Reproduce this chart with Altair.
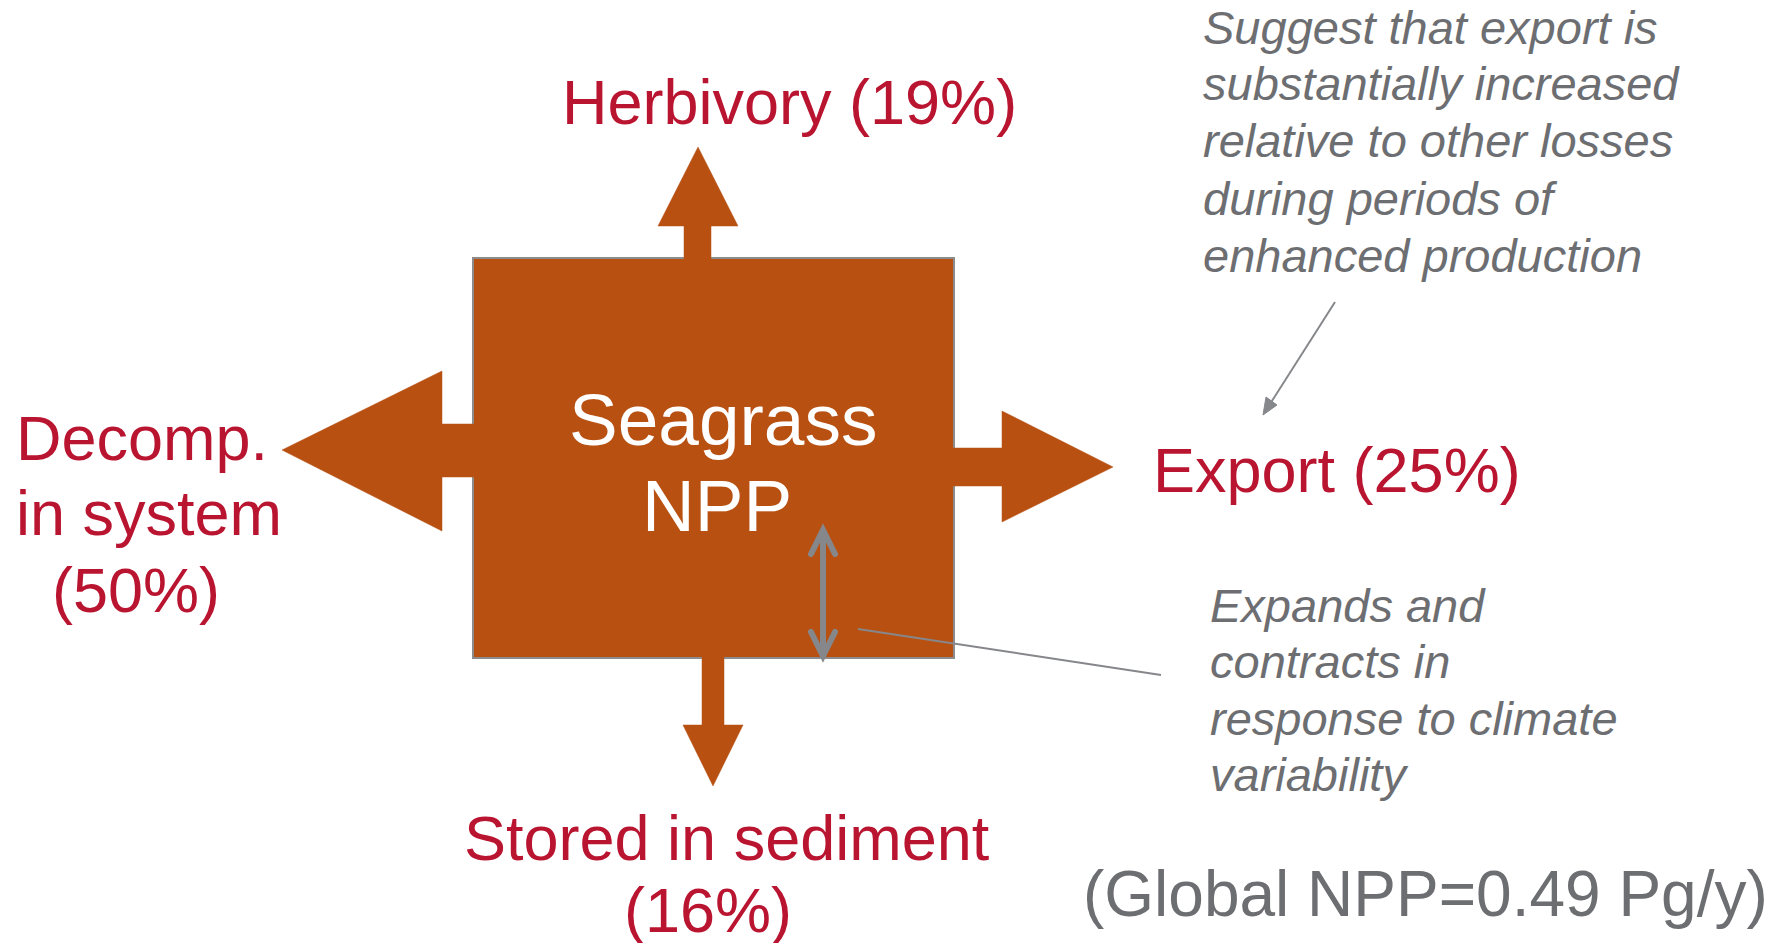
import altair as alt
import pandas as pd

BROWN = "#B85012"
RED = "#BA1530"
GRAY_TXT = "#6D6E71"
GRAY_LN = "#85878A"
FONT = "Liberation Sans"

# ---- NPP box (pixel-space diagram coordinates) ----
box_x, box_x2, box_y, box_y2 = [473], [954], [258], [658]

# ---- flux arrows: polygon vertices ----
up_x = [684, 684, 658, 698, 738, 711, 711]
up_y = [260, 226, 226, 147, 226, 226, 260]
left_x = [475, 442, 442, 282, 442, 442, 475]
left_y = [424, 424, 371, 450, 531, 477, 477]
right_x = [953, 1002, 1002, 1113, 1002, 1002, 953]
right_y = [448, 448, 411, 467, 522, 486, 486]
down_x = [702, 702, 683, 713, 743, 724, 724]
down_y = [657, 725, 725, 786, 725, 725, 657]

# ---- callout arrowhead (filled) ----
head_x = [1263, 1277, 1266]
head_y = [415, 405, 397]

# ---- thin leader lines ----
rule_x = [858, 1335]
rule_y = [629, 302]
rule_x2 = [1161, 1270]
rule_y2 = [675, 404]

# ---- double arrow (expands / contracts) ----
dbl_x, dbl_y, dbl_y2 = [823], [531], [655]
chev_x = [811, 823, 835, 811, 823, 835]
chev_y = [554, 530, 554, 632, 656, 632]
chev_id = ["top", "top", "top", "bot", "bot", "bot"]

# ---- labels ----
red_text = ["Herbivory (19%)", "Decomp.", "in system", "(50%)", "Export (25%)",
            "Stored in sediment", "(16%)"]
red_x = [562, 16, 16, 52, 1153, 464, 624]
red_y = [124, 460, 535, 612, 492, 860, 932]

white_text = ["Seagrass", "NPP"]
white_x = [569, 642]
white_y = [445, 531]

ital_text = ["Suggest that export is", "substantially increased",
             "relative to other losses", "during periods of", "enhanced production",
             "Expands and", "contracts in", "response to climate", "variability"]
ital_x = [1203] * 5 + [1210] * 4
ital_y = [44, 100, 157, 215, 272, 622, 678, 735, 791]

note_text = ["(Global NPP=0.49 Pg/y)"]
note_x = [1083]
note_y = [916]

# ---- build tables ----
polys = []
for name, xs, ys in [("up", up_x, up_y), ("left", left_x, left_y),
                     ("right", right_x, right_y), ("down", down_x, down_y)]:
    for i, (a, b) in enumerate(zip(xs, ys)):
        polys.append({"shape": name, "i": i, "x": a, "y": b})
poly_df = pd.DataFrame(polys)
head_df = pd.DataFrame({"shape": "h", "i": range(3), "x": head_x, "y": head_y})
box_df = pd.DataFrame({"x": box_x, "x2": box_x2, "y": box_y, "y2": box_y2})
rule_df = pd.DataFrame({"x": rule_x, "y": rule_y, "x2": rule_x2, "y2": rule_y2})
dbl_df = pd.DataFrame({"x": dbl_x, "y": dbl_y, "y2": dbl_y2})
chev_df = pd.DataFrame({"x": chev_x, "y": chev_y, "id": chev_id, "i": [0, 1, 2] * 2})

def tdf(t, x, y):
    return pd.DataFrame({"t": t, "x": x, "y": y})

XS = alt.Scale(domain=[8, 1769], nice=False, zero=False)
YS = alt.Scale(domain=[8, 943], nice=False, zero=False, reverse=True)
X = alt.X("x:Q", scale=XS, axis=None)
Y = alt.Y("y:Q", scale=YS, axis=None)

box = alt.Chart(box_df).mark_rect(fill=BROWN, stroke="#8C8C8C", strokeWidth=2).encode(
    x=X, y=Y, x2="x2:Q", y2="y2:Q")

arrows = alt.Chart(poly_df).mark_line(fill=BROWN, stroke=BROWN, strokeWidth=0.5,
                                      interpolate="linear-closed").encode(
    x=X, y=Y, detail="shape:N", order="i:Q")

head = alt.Chart(head_df).mark_line(fill=GRAY_LN, stroke=GRAY_LN, strokeWidth=1,
                                    interpolate="linear-closed").encode(
    x=X, y=Y, detail="shape:N", order="i:Q")

rules = alt.Chart(rule_df).mark_rule(color=GRAY_LN, strokeWidth=2).encode(
    x=X, y=Y, x2="x2:Q", y2="y2:Q")

dbl = alt.Chart(dbl_df).mark_rule(color=GRAY_LN, strokeWidth=6).encode(
    x=X, y=Y, y2="y2:Q")

chev = alt.Chart(chev_df).mark_line(color=GRAY_LN, strokeWidth=6, strokeCap="round",
                                    strokeJoin="miter").encode(
    x=X, y=Y, detail="id:N", order="i:Q")

def text_layer(df, size, color, italic=False):
    kw = dict(align="left", baseline="alphabetic", font=FONT, fontSize=size, color=color)
    if italic:
        kw["fontStyle"] = "italic"
    return alt.Chart(df).mark_text(**kw).encode(x=X, y=Y, text="t:N")

red = text_layer(tdf(red_text, red_x, red_y), 63, RED)
white = text_layer(tdf(white_text, white_x, white_y), 73, "#FFFFFF")
ital = text_layer(tdf(ital_text, ital_x, ital_y), 47, GRAY_TXT, italic=True)
note = text_layer(tdf(note_text, note_x, note_y), 64, GRAY_TXT)

chart = alt.layer(box, arrows, rules, dbl, chev, head, red, white, ital, note).properties(
    width=1761, height=935, padding=0, autosize="none", background="#FFFFFF"
).configure_view(strokeWidth=0)

chart.save("out.html", embed_options={"renderer": "svg", "actions": False})
